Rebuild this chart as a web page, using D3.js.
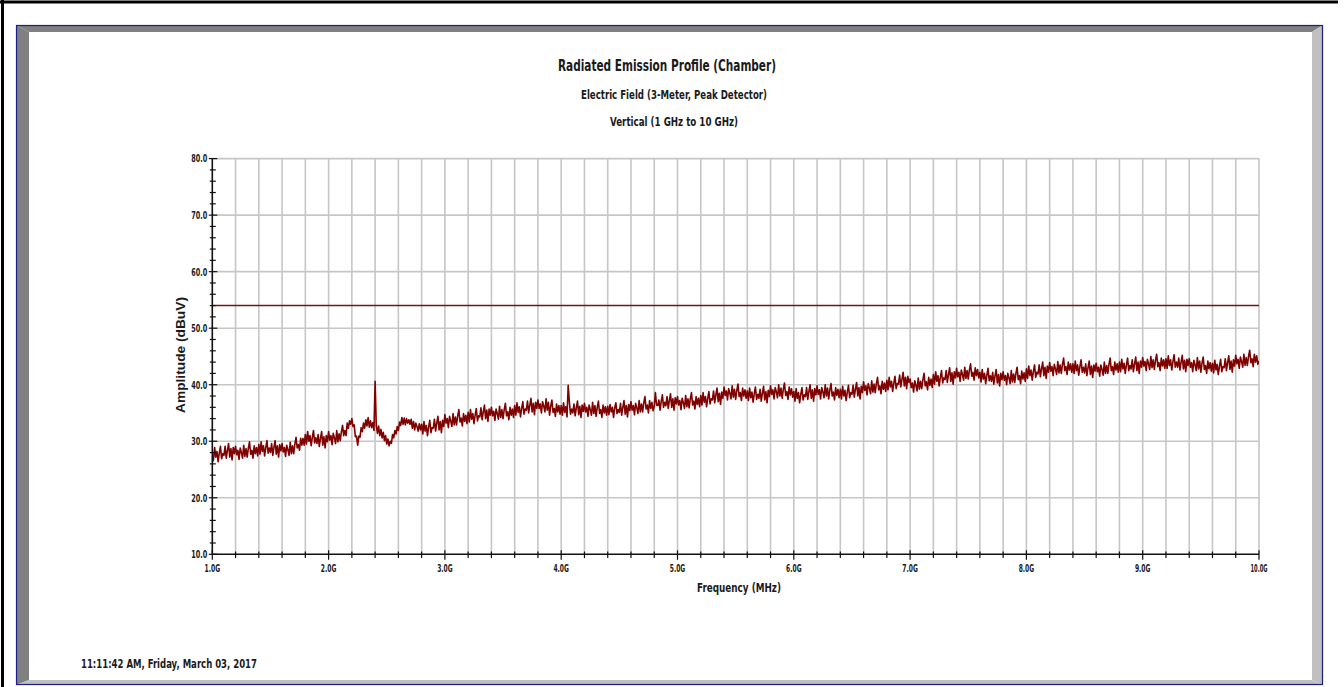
<!DOCTYPE html>
<html>
<head>
<meta charset="utf-8">
<script src="https://cdn.jsdelivr.net/npm/d3@7"></script>
<style>
body{margin:0;background:#fff;}
svg text{font-family:"Liberation Sans Narrow","Arial Narrow","DejaVu Sans Condensed",sans-serif;font-weight:bold;fill:#1a1a1a;}
</style>
</head>
<body>
<div id="plot"></div>
<script>
// titles and labels
var titleMain = 'Radiated Emission Profile (Chamber)';
var titleSub1 = 'Electric Field (3-Meter, Peak Detector)';
var titleSub2 = 'Vertical (1 GHz to 10 GHz)';
var xTitle = 'Frequency (MHz)';
var yTitle = 'Amplitude (dBuV)';
var stamp = '11:11:42 AM, Friday, March 03, 2017';

// axis ticks
var xMajor = [1, 2, 3, 4, 5, 6, 7, 8, 9, 10];
var xLabels = ['1.0G', '2.0G', '3.0G', '4.0G', '5.0G', '6.0G', '7.0G', '8.0G', '9.0G', '10.0G'];
var yMajor = [10, 20, 30, 40, 50, 60, 70, 80];
var yLabels = ['10.0', '20.0', '30.0', '40.0', '50.0', '60.0', '70.0', '80.0'];

// limit line (dBuV)
var limit = 54;

// sweep: 1 GHz to 10 GHz, one reading every 0.01 GHz (one row = 0.1 GHz)
var freqStart = 1, freqStep = 0.01;
var amplitude = [
    26.3, 26.7, 28.9, 27.2, 28.2, 26.4, 27.9, 29.1, 26.9, 27.8,
    27.5, 29.1, 27.0, 28.4, 29.6, 27.2, 28.7, 26.7, 28.9, 27.8,
    29.1, 27.6, 28.4, 26.8, 28.8, 28.0, 27.0, 29.3, 27.3, 28.7,
    27.2, 28.8, 29.9, 27.7, 28.4, 27.0, 29.2, 27.8, 28.9, 27.4,
    29.4, 27.7, 29.9, 28.2, 29.2, 27.4, 28.9, 30.1, 27.9, 28.8,
    28.0, 29.6, 27.5, 28.9, 30.1, 27.7, 29.2, 27.2, 29.4, 28.3,
    29.6, 28.1, 28.9, 27.3, 29.3, 28.5, 27.5, 29.8, 27.8, 29.2,
    27.8, 29.5, 30.7, 28.8, 29.4, 28.4, 30.5, 29.3, 30.5, 29.3,
    31.2, 29.5, 31.7, 30.0, 31.0, 29.2, 30.7, 31.9, 29.7, 30.6,
    29.6, 31.2, 29.1, 30.5, 31.7, 29.3, 30.8, 28.8, 31.0, 29.9,
    31.7, 30.2, 31.0, 29.4, 31.4, 30.6, 29.6, 31.9, 29.9, 31.3,
    30.1, 31.7, 32.8, 31.0, 31.9, 31.0, 33.2, 32.3, 33.6, 33.0,
    34.0, 32.6, 32.9, 30.8, 30.9, 29.3, 30.9, 30.7, 32.4, 31.7,
    33.2, 32.3, 33.8, 32.7, 34.2, 32.5, 33.6, 32.4, 33.3, 31.9,
    40.6, 32.8, 31.4, 32.7, 31.0, 32.1, 30.6, 31.6, 30.1, 31.0,
    29.5, 30.4, 29.2, 30.0, 29.6, 31.2, 30.6, 31.9, 31.3, 32.6,
    31.9, 33.4, 32.8, 34.2, 33.0, 34.1, 32.9, 34.0, 33.2, 33.8,
    33.0, 33.9, 32.3, 33.5, 32.0, 33.2, 32.6, 31.8, 33.1, 32.0,
    33.0, 31.3, 33.5, 31.8, 32.8, 31.0, 32.5, 33.7, 31.5, 32.4,
    32.3, 33.9, 31.8, 33.2, 34.4, 32.0, 33.5, 31.5, 33.7, 32.6,
    34.7, 33.2, 34.0, 32.4, 34.4, 33.6, 32.6, 34.9, 32.9, 34.3,
    32.9, 34.5, 35.6, 33.4, 34.1, 32.7, 34.9, 33.5, 34.6, 33.1,
    35.1, 33.4, 35.6, 33.9, 34.9, 33.1, 34.6, 35.8, 33.6, 34.5,
    34.3, 35.9, 33.8, 35.2, 36.4, 34.0, 35.5, 33.5, 35.7, 34.6,
    36.0, 34.5, 35.3, 33.7, 35.7, 34.9, 33.9, 36.2, 34.2, 35.6,
    34.0, 35.6, 36.7, 34.5, 35.2, 33.8, 36.0, 34.6, 35.7, 34.2,
    36.3, 34.6, 36.8, 35.1, 36.1, 34.3, 35.8, 37.0, 34.8, 35.7,
    35.5, 37.1, 35.0, 36.4, 37.6, 35.2, 36.7, 34.7, 36.9, 35.8,
    37.3, 35.8, 36.6, 35.0, 37.0, 36.2, 35.2, 37.5, 35.5, 36.9,
    34.6, 36.2, 37.3, 35.1, 35.8, 34.4, 36.6, 35.2, 36.3, 34.8,
    36.3, 34.6, 36.8, 35.1, 36.1, 34.3, 39.9, 37.0, 34.8, 35.7,
    35.0, 36.6, 34.5, 35.9, 37.1, 34.7, 36.2, 34.2, 36.4, 35.3,
    36.7, 35.2, 36.0, 34.4, 36.4, 35.6, 34.6, 36.9, 34.9, 36.3,
    34.4, 36.0, 37.1, 34.9, 35.6, 34.2, 36.4, 35.0, 36.1, 34.6,
    36.2, 34.7, 36.5, 35.2, 36.0, 34.2, 35.9, 36.8, 34.9, 35.6,
    35.1, 36.7, 34.6, 36.0, 37.2, 34.8, 36.3, 34.3, 36.5, 35.4,
    37.0, 35.5, 36.3, 34.7, 36.7, 35.9, 34.9, 37.2, 35.2, 36.6,
    35.2, 36.8, 37.9, 35.7, 36.4, 35.0, 37.2, 35.8, 36.9, 35.4,
    36.2, 38.6, 36.4, 36.3, 37.3, 35.5, 37.0, 38.2, 36.0, 36.9,
    36.3, 37.9, 35.8, 37.2, 38.4, 36.0, 37.5, 35.5, 37.7, 36.6,
    37.9, 36.4, 37.2, 35.6, 37.6, 36.8, 35.8, 38.1, 36.1, 37.5,
    35.9, 37.5, 38.6, 36.4, 37.1, 35.7, 37.9, 36.5, 37.6, 36.1,
    38.1, 36.4, 38.6, 36.9, 37.9, 36.1, 37.6, 38.8, 36.6, 37.5,
    37.3, 38.9, 36.8, 38.2, 39.4, 37.0, 38.5, 36.5, 38.7, 37.6,
    39.6, 38.1, 38.9, 37.3, 39.3, 38.5, 37.5, 39.8, 37.8, 39.2,
    37.4, 39.0, 40.1, 37.9, 38.6, 37.2, 39.4, 38.0, 39.1, 37.6,
    38.9, 37.2, 39.4, 37.7, 38.7, 36.9, 38.4, 39.6, 37.4, 38.3,
    37.6, 39.2, 37.1, 38.5, 39.7, 37.3, 38.8, 36.8, 39.0, 37.9,
    39.8, 38.3, 39.1, 37.5, 39.5, 38.7, 37.7, 40.0, 38.0, 39.4,
    37.6, 39.2, 40.3, 38.1, 38.8, 37.4, 39.6, 38.2, 39.3, 37.8,
    38.8, 37.1, 39.3, 37.6, 38.6, 36.8, 38.3, 39.5, 37.3, 38.2,
    37.9, 39.5, 37.4, 38.8, 40.0, 37.6, 39.1, 37.1, 39.3, 38.2,
    39.8, 38.3, 39.1, 37.5, 39.5, 38.7, 37.7, 40.0, 38.0, 39.4,
    37.5, 39.1, 40.2, 38.0, 38.7, 37.3, 39.5, 38.1, 39.2, 37.7,
    39.2, 37.5, 39.7, 38.0, 39.0, 37.2, 38.7, 39.9, 37.7, 38.6,
    38.3, 39.9, 37.8, 39.2, 40.4, 38.0, 39.5, 37.5, 39.7, 38.6,
    40.5, 39.0, 39.8, 38.2, 40.2, 39.4, 38.4, 40.7, 38.7, 40.1,
    38.6, 40.2, 41.3, 39.1, 39.8, 38.4, 40.6, 39.2, 40.3, 38.8,
    40.8, 39.1, 41.3, 39.6, 40.6, 38.8, 40.3, 41.5, 39.3, 40.2,
    40.1, 41.7, 39.6, 41.0, 42.2, 39.8, 41.3, 39.3, 41.5, 40.4,
    41.0, 39.5, 40.3, 38.7, 40.7, 39.9, 38.9, 41.2, 39.2, 40.6,
    39.3, 40.9, 42.0, 39.8, 40.5, 39.1, 41.3, 39.9, 41.0, 39.5,
    41.8, 40.1, 42.3, 40.6, 41.6, 39.8, 41.3, 42.5, 40.3, 41.2,
    40.9, 42.5, 40.4, 41.8, 43.0, 40.6, 42.1, 40.1, 42.3, 41.2,
    42.9, 41.4, 42.2, 40.6, 42.6, 41.8, 40.8, 43.1, 41.1, 42.5,
    41.0, 42.6, 43.7, 41.5, 42.2, 40.8, 43.0, 41.6, 42.7, 41.2,
    42.2, 40.5, 42.7, 41.0, 42.0, 40.2, 41.7, 42.9, 40.7, 41.6,
    40.6, 42.2, 40.1, 41.5, 42.7, 40.3, 41.8, 39.8, 42.0, 40.9,
    42.3, 40.8, 41.6, 40.0, 42.0, 41.2, 40.2, 42.5, 40.5, 41.9,
    40.4, 42.0, 43.1, 40.9, 41.6, 40.2, 42.4, 41.0, 42.1, 40.6,
    42.8, 41.1, 43.3, 41.6, 42.6, 40.8, 42.3, 43.5, 41.3, 42.2,
    41.9, 43.5, 41.4, 42.8, 44.0, 41.6, 43.1, 41.1, 43.3, 42.2,
    43.9, 42.4, 43.2, 41.6, 43.6, 42.8, 41.8, 44.1, 42.1, 43.5,
    42.0, 43.6, 44.7, 42.5, 43.2, 41.8, 44.0, 42.6, 43.7, 42.2,
    43.7, 42.0, 44.2, 42.5, 43.5, 41.7, 43.2, 44.4, 42.2, 43.1,
    42.1, 43.7, 41.6, 43.0, 44.2, 41.8, 43.3, 41.3, 43.5, 42.4,
    43.8, 42.3, 43.1, 41.5, 43.5, 42.7, 41.7, 44.0, 42.0, 43.4,
    42.0, 43.6, 44.7, 42.5, 43.2, 41.8, 44.0, 42.6, 43.7, 42.2,
    44.0, 42.3, 44.5, 42.8, 43.8, 42.0, 43.5, 44.7, 42.5, 43.4,
    42.8, 44.4, 42.3, 43.7, 44.9, 42.5, 44.0, 42.0, 44.2, 43.1,
    44.8, 43.3, 44.1, 42.5, 44.5, 43.7, 42.7, 45.0, 43.0, 44.4,
    42.7, 44.3, 45.4, 43.2, 43.9, 42.5, 44.7, 43.3, 44.4, 42.9,
    44.6, 42.9, 45.1, 43.4, 44.4, 42.6, 44.1, 45.3, 43.1, 44.0,
    43.1, 44.7, 42.6, 44.0, 45.2, 42.8, 44.3, 42.3, 44.5, 43.4,
    44.6, 43.1, 43.9, 42.3, 44.3, 43.5, 42.5, 44.8, 42.8, 44.2,
    42.2, 43.8, 44.9, 42.7, 43.4, 42.0, 44.2, 42.8, 43.9, 42.4,
    43.8, 42.1, 44.3, 42.6, 43.6, 41.8, 43.3, 44.5, 42.3, 43.2,
    43.0, 44.6, 42.5, 43.9, 45.1, 42.7, 44.2, 42.2, 44.4, 43.3,
    45.2, 43.7, 44.5, 42.9, 44.9, 44.1, 43.1, 45.4, 43.4, 44.8,
    43.4, 45.0, 46.1, 43.9, 44.6, 43.2, 45.4, 44.0, 45.1, 43.6,
    44.2
];

var W = 1344, H = 687;
var margin = {l: 212.3, t: 158.6, r: 1259, b: 554.3}; // plot edges in px

var svg = d3.select('#plot').append('svg')
    .attr('width', W)
    .attr('height', H);

// outer black edge
svg.append('path')
    .attr('d', 'M2.5,0V687M0,2H1338')
    .attr('stroke', '#000')
    .attr('stroke-width', 3)
    .attr('fill', 'none');

// panel with bevel
var p = {x0: 16, y0: 25, x1: 1323, y1: 685, bl: 13, bt: 7, br: 11, bb: 5};
svg.append('rect')
    .attr('x', p.x0).attr('y', p.y0)
    .attr('width', p.x1 - p.x0).attr('height', p.y1 - p.y0)
    .attr('fill', '#fff');
var bevel = [
    {c: '#808080', pts: [[p.x0, p.y0], [p.x1, p.y0], [p.x1 - p.br, p.y0 + p.bt], [p.x0 + p.bl, p.y0 + p.bt]]},
    {c: '#808080', pts: [[p.x0, p.y0], [p.x0 + p.bl, p.y0 + p.bt], [p.x0 + p.bl, p.y1 - p.bb], [p.x0, p.y1]]},
    {c: '#c0c0c0', pts: [[p.x1, p.y0], [p.x1, p.y1], [p.x1 - p.br, p.y1 - p.bb], [p.x1 - p.br, p.y0 + p.bt]]},
    {c: '#c0c0c0', pts: [[p.x0, p.y1], [p.x0 + p.bl, p.y1 - p.bb], [p.x1 - p.br, p.y1 - p.bb], [p.x1, p.y1]]}
];
svg.selectAll('.bevel').data(bevel).enter()
    .append('polygon')
    .attr('class', 'bevel')
    .attr('points', function(d){ return d.pts.join(' '); })
    .attr('fill', function(d){ return d.c; });
svg.append('rect')
    .attr('x', p.x0 + 0.5).attr('y', p.y0 + 0.5)
    .attr('width', p.x1 - p.x0 - 1).attr('height', p.y1 - p.y0 - 1)
    .attr('fill', 'none')
    .attr('stroke', '#1c1c8c')
    .attr('stroke-width', 1.2);

// scales
var x = d3.scaleLinear().domain([1, 10]).range([margin.l, margin.r]);
var y = d3.scaleLinear().domain([10, 80]).range([margin.b, margin.t]);

var xMinor = d3.range(5, 51).map(function(i){ return i / 5; });   // every 0.2 GHz
var yMinor = d3.range(5, 41).map(function(i){ return i * 2; });   // every 2 dB

// grid
var grid = svg.append('g').attr('class', 'grid');
grid.selectAll('.gx').data(xMinor.slice(1)).enter()
    .append('line')
    .attr('x1', function(d){ return x(d); }).attr('x2', function(d){ return x(d); })
    .attr('y1', margin.t).attr('y2', margin.b)
    .attr('stroke', '#c6c6c6').attr('stroke-width', 1.6);
grid.selectAll('.gy').data(yMajor.slice(1)).enter()
    .append('line')
    .attr('x1', margin.l).attr('x2', margin.r)
    .attr('y1', function(d){ return y(d); }).attr('y2', function(d){ return y(d); })
    .attr('stroke', '#c6c6c6').attr('stroke-width', 1.6);

// clip the trace to the plot
svg.append('clipPath').attr('id', 'clip')
    .append('rect')
    .attr('x', margin.l).attr('y', margin.t)
    .attr('width', margin.r - margin.l).attr('height', margin.b - margin.t);

// limit line
svg.append('line')
    .attr('x1', x(1)).attr('x2', x(10))
    .attr('y1', y(limit)).attr('y2', y(limit))
    .attr('stroke', '#7a1414')
    .attr('stroke-width', 1.6);

// emission trace
var trace = d3.line()
    .x(function(d, i){ return x(freqStart + i * freqStep); })
    .y(function(d){ return y(d); });

svg.append('path')
    .datum(amplitude)
    .attr('clip-path', 'url(#clip)')
    .attr('fill', 'none')
    .attr('stroke', '#800000')
    .attr('stroke-width', 1.6)
    .attr('stroke-linejoin', 'round')
    .attr('d', trace);

// axes lines and crossing ticks
var axes = svg.append('g').attr('class', 'axes').attr('stroke', '#111');
axes.append('line').attr('x1', margin.l).attr('x2', margin.l).attr('y1', margin.t).attr('y2', margin.b).attr('stroke-width', 1.6);
axes.append('line').attr('x1', margin.l).attr('x2', margin.r).attr('y1', margin.b).attr('y2', margin.b).attr('stroke-width', 1.6);

axes.selectAll('.ty').data(yMinor).enter()
    .append('line')
    .attr('x1', function(d){ return margin.l - (d % 10 === 0 ? 3.5 : 2.5); })
    .attr('x2', function(d){ return margin.l + (d % 10 === 0 ? 5 : 3.5); })
    .attr('y1', function(d){ return y(d); }).attr('y2', function(d){ return y(d); })
    .attr('stroke-width', 1.2);

axes.selectAll('.tx').data(xMinor).enter()
    .append('line')
    .attr('x1', function(d){ return x(d); }).attr('x2', function(d){ return x(d); })
    .attr('y1', function(d){ return margin.b - (Math.abs(d - Math.round(d)) < 1e-6 ? 4 : 2.8); })
    .attr('y2', function(d){ return margin.b + (Math.abs(d - Math.round(d)) < 1e-6 ? 5.5 : 3.8); })
    .attr('stroke-width', 1.2);

// tick labels
svg.selectAll('.ly').data(yMajor).enter()
    .append('text')
    .attr('x', margin.l - 5)
    .attr('y', function(d){ return y(d); })
    .attr('dy', '0.35em')
    .attr('text-anchor', 'end')
    .style('font-size', '11px')
    .attr('textLength', 16)
    .attr('lengthAdjust', 'spacingAndGlyphs')
    .text(function(d, i){ return yLabels[i]; });

svg.selectAll('.lx').data(xMajor).enter()
    .append('text')
    .attr('x', function(d){ return x(d); })
    .attr('y', 568)
    .attr('dy', '0.35em')
    .attr('text-anchor', 'middle')
    .style('font-size', '11px')
    .attr('textLength', function(d){ return d === 10 ? 17 : 15.5; })
    .attr('lengthAdjust', 'spacingAndGlyphs')
    .text(function(d, i){ return xLabels[i]; });

// titles
function label(t, cx, cy, size, w, rot){
    var el = svg.append('text')
        .attr('x', cx).attr('y', cy)
        .attr('dy', '0.35em')
        .attr('text-anchor', 'middle')
        .style('font-size', size + 'px')
        .attr('textLength', w)
        .attr('lengthAdjust', 'spacingAndGlyphs')
        .text(t);
    if (rot) el.attr('transform', 'rotate(-90,' + cx + ',' + cy + ')');
    return el;
}
label(titleMain, 667, 65.5, 16, 218);
label(titleSub1, 674, 94.5, 12, 186);
label(titleSub2, 674, 122, 12, 128);
label(xTitle, 739, 588, 12, 84);
label(yTitle, 181, 355, 12, 116, true).style('font-family', '"Liberation Sans", Arial, sans-serif');
svg.append('text')
    .attr('x', 81).attr('y', 664)
    .attr('dy', '0.35em')
    .style('font-size', '12px')
    .attr('textLength', 176)
    .attr('lengthAdjust', 'spacingAndGlyphs')
    .text(stamp);
</script>
</body>
</html>
